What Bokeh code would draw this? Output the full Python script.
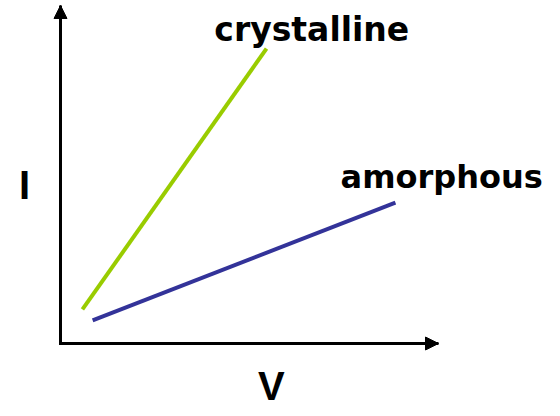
from bokeh.plotting import figure
from bokeh.models import Range1d, Arrow, NormalHead, Label
from bokeh.embed import file_html
from bokeh.resources import INLINE

# ---- data (V, I in arbitrary units) ----
series_names = ["crystalline", "amorphous"]
crystalline_v = [0.58, 5.45]
crystalline_i = [1.02, 8.83]
amorphous_v = [0.85, 8.86]
amorphous_i = [0.69, 4.22]
series_colors = ["#99CC00", "#333399"]
axis_v_max = 10.0
axis_i_max = 10.12
x_label = "V"
y_label = "I"

# ---- scale (pixels per unit) and frame ----
W, H = 544, 400
sx, sy = 37.8, 33.4
ox, oy = 60, 343  # origin position inside the canvas (px from left / top)
x_range = Range1d(-ox / sx, (W - ox) / sx)
y_range = Range1d(-(H - oy) / sy, oy / sy)

p = figure(width=W, height=H, x_range=x_range, y_range=y_range,
           output_backend="svg", toolbar_location=None,
           x_axis_type=None, y_axis_type=None, min_border=0)
p.min_border_left = p.min_border_right = p.min_border_top = p.min_border_bottom = 0
p.grid.visible = False
p.outline_line_color = None
p.background_fill_color = "white"
p.border_fill_color = "white"

# axes as arrows
p.line([0, 0, axis_v_max], [axis_i_max, 0, 0], line_color="black", line_width=3,
       line_join="miter")
p.add_layout(Arrow(x_start=0, y_start=axis_i_max - 1, x_end=0, y_end=axis_i_max,
                   line_alpha=0, line_width=0,
                   end=NormalHead(size=13, fill_color="black", line_color="black", line_width=1)))
p.add_layout(Arrow(x_start=axis_v_max - 1, y_start=0, x_end=axis_v_max, y_end=0,
                   line_alpha=0, line_width=0,
                   end=NormalHead(size=13, fill_color="black", line_color="black", line_width=1)))

# series lines
p.line(crystalline_v, crystalline_i, line_color=series_colors[0], line_width=4)
p.line(amorphous_v, amorphous_i, line_color=series_colors[1], line_width=4)

lab = dict(text_font="DejaVu Sans", text_font_style="bold",
           text_color="black", text_baseline="middle", text_align="left")
p.add_layout(Label(x=4.07, y=9.39, text=series_names[0], text_font_size="33px", **lab))
p.add_layout(Label(x=7.41, y=4.98, text=series_names[1], text_font_size="32px", **lab))

ax = dict(text_font="Liberation Sans", text_font_style="bold", text_font_size="40px",
          text_color="black", text_baseline="middle", text_align="center")
p.add_layout(Label(x=-0.952, y=4.76, text=y_label, **ax))
p.add_layout(Label(x=5.58, y=-1.26, text=x_label, **ax))

open("out.html", "w").write(file_html(p, INLINE))
